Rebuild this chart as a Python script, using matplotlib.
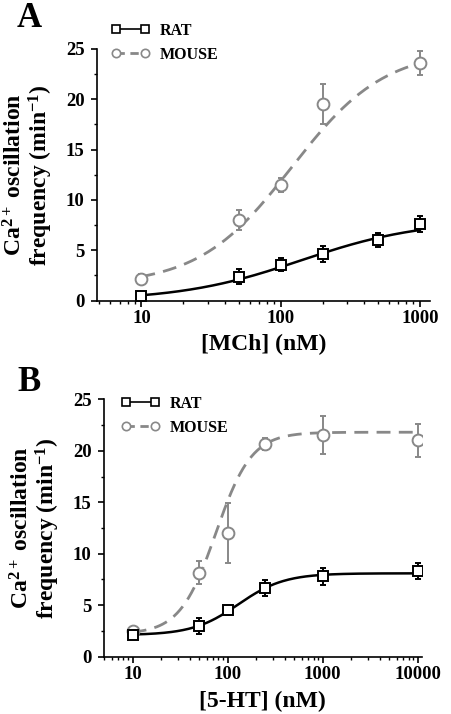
import numpy as np
import matplotlib
matplotlib.use("Agg")
import matplotlib.pyplot as plt
from matplotlib.ticker import FixedLocator, NullFormatter, MultipleLocator, LogLocator

plt.rcParams['font.family'] = ['Liberation Serif', 'DejaVu Serif']
plt.rcParams['font.weight'] = 'bold'
plt.rcParams['mathtext.fontset'] = 'custom'
plt.rcParams['mathtext.rm'] = 'Liberation Serif:bold'
plt.rcParams['mathtext.it'] = 'Liberation Serif:bold'
plt.rcParams['mathtext.bf'] = 'Liberation Serif:bold'
plt.rcParams['mathtext.default'] = 'rm'

# panel A : MCh
mch_rat_x = [10, 50, 100, 200, 500, 1000]
mch_rat_y = [0.5, 2.4, 3.55, 4.65, 6.0, 7.6]
mch_rat_err = [0.3, 0.7, 0.65, 0.8, 0.7, 0.8]
mch_mouse_x = [10, 50, 100, 200, 1000]
mch_mouse_y = [2.2, 8.0, 11.5, 19.5, 23.6]
mch_mouse_err = [0.4, 1.0, 0.7, 2.0, 1.2]
# hill fit params: bottom, top, ec50, slope
mch_rat_fit = (0.0, 8.0, 140, 1.0)
mch_mouse_fit = (1.5, 25.0, 120, 1.3)

# panel B : 5-HT
ht_rat_x = [10, 50, 100, 250, 1000, 10000]
ht_rat_y = [2.1, 3.0, 4.5, 6.65, 7.8, 8.3]
ht_rat_err = [0.2, 0.75, 0.4, 0.8, 0.8, 0.8]
ht_mouse_x = [10, 50, 100, 250, 1000, 10000]
ht_mouse_y = [2.5, 8.15, 12.05, 20.65, 21.5, 21.0]
ht_mouse_err = [0.3, 1.1, 2.9, 0.55, 1.85, 1.6]
ht_rat_fit = (2.1, 8.1, 130, 1.8)
ht_mouse_fit = (2.2, 21.8, 75, 2.3)

GRAY = '#888888'


def hill(x, p):
    b, t, ec, n = p
    return b + (t - b) / (1 + (ec / x) ** n)


def panel(ax, rx, ry, re, rfit, mx, my, me, mfit, xlim, xticks, xlabel, leg_xy):
    xs = np.logspace(np.log10(rx[0]), np.log10(rx[-1]), 200)
    ax.plot(xs, hill(xs, rfit), color='black', lw=1.8, zorder=2)
    xs = np.logspace(np.log10(mx[0]), np.log10(mx[-1]), 200)
    ax.plot(xs, hill(xs, mfit), color=GRAY, lw=2.0, ls=(0, (5, 3)), zorder=2)
    ax.errorbar(mx, my, yerr=me, fmt='none', ecolor=GRAY, elinewidth=1.4, capsize=2.5, capthick=1.4, zorder=3)
    ax.errorbar(rx, ry, yerr=re, fmt='none', ecolor='black', elinewidth=1.4, capsize=2.5, capthick=1.4, zorder=3)
    ax.plot(mx, my, 'o', ms=8.5, mfc='white', mec=GRAY, mew=1.4, ls='none', zorder=4)
    ax.plot(rx, ry, 's', ms=7, mfc='white', mec='black', mew=1.4, ls='none', zorder=5)

    lr, = ax.plot([], [], color='black', lw=1.2, marker='s', ms=6, mfc='white', mec='black', mew=1.2)
    lm, = ax.plot([], [], color=GRAY, lw=2.0, ls=(0, (3, 2)), marker='o', ms=6, mfc='white', mec=GRAY, mew=1.2)
    ax.legend([lr, lm], ['RAT', 'MOUSE'], loc='upper left', bbox_to_anchor=leg_xy,
              frameon=False, numpoints=2, handlelength=2.4, handletextpad=0.6,
              labelspacing=0.5, prop={'size': 11.5, 'weight': 'bold'})

    ax.set_xscale('log')
    ax.set_xlim(*xlim)
    ax.set_ylim(0, 25)
    ax.xaxis.set_major_locator(FixedLocator(xticks))
    ax.set_xticklabels([str(t) for t in xticks])
    ax.xaxis.set_minor_locator(LogLocator(base=10, subs=np.arange(2, 10)))
    ax.xaxis.set_minor_formatter(NullFormatter())
    ax.yaxis.set_major_locator(MultipleLocator(5))
    ax.yaxis.set_minor_locator(MultipleLocator(2.5))
    ax.spines['top'].set_visible(False)
    ax.spines['right'].set_visible(False)
    ax.spines['left'].set_linewidth(1.2)
    ax.spines['bottom'].set_linewidth(1.2)
    ax.tick_params(axis='both', which='major', direction='out', length=4, width=1.2,
                   labelsize=13.5)
    ax.tick_params(axis='x', which='major', pad=3)
    ax.tick_params(axis='y', which='major', pad=5)
    ax.tick_params(axis='both', which='minor', direction='out', length=2.5, width=1.0)
    for lab in ax.get_xticklabels() + ax.get_yticklabels():
        lab.set_fontweight('bold')
    ax.set_xlabel(xlabel, fontsize=17, fontweight='bold', labelpad=5)
    ax.set_ylabel('Ca$^{2+}$ oscillation\nfrequency (min$^{-1}$)', fontsize=17,
                  fontweight='bold', linespacing=1.0, labelpad=8)


fig = plt.figure(figsize=(4.52, 7.14), dpi=100)
axA = fig.add_axes([0.2146, 0.5789, 0.7364, 0.3525])
axB = fig.add_axes([0.2301, 0.0802, 0.7029, 0.3606])

panel(axA, mch_rat_x, mch_rat_y, mch_rat_err, mch_rat_fit,
      mch_mouse_x, mch_mouse_y, mch_mouse_err, mch_mouse_fit,
      (4.8, 1180), [10, 100, 1000], '[MCh] (nM)', (0.0, 1.16))
panel(axB, ht_rat_x, ht_rat_y, ht_rat_err, ht_rat_fit,
      ht_mouse_x, ht_mouse_y, ht_mouse_err, ht_mouse_fit,
      (5.0, 11000), [10, 100, 1000, 10000], '[5-HT] (nM)', (0.01, 1.07))

fig.text(17 / 452, 1 - 2 / 714, 'A', fontsize=25, fontweight='bold', ha='left', va='top')
fig.text(17 / 452, 1 - 366 / 714, 'B', fontsize=25, fontweight='bold', ha='left', va='top')

fig.savefig('out.png', dpi=100)
